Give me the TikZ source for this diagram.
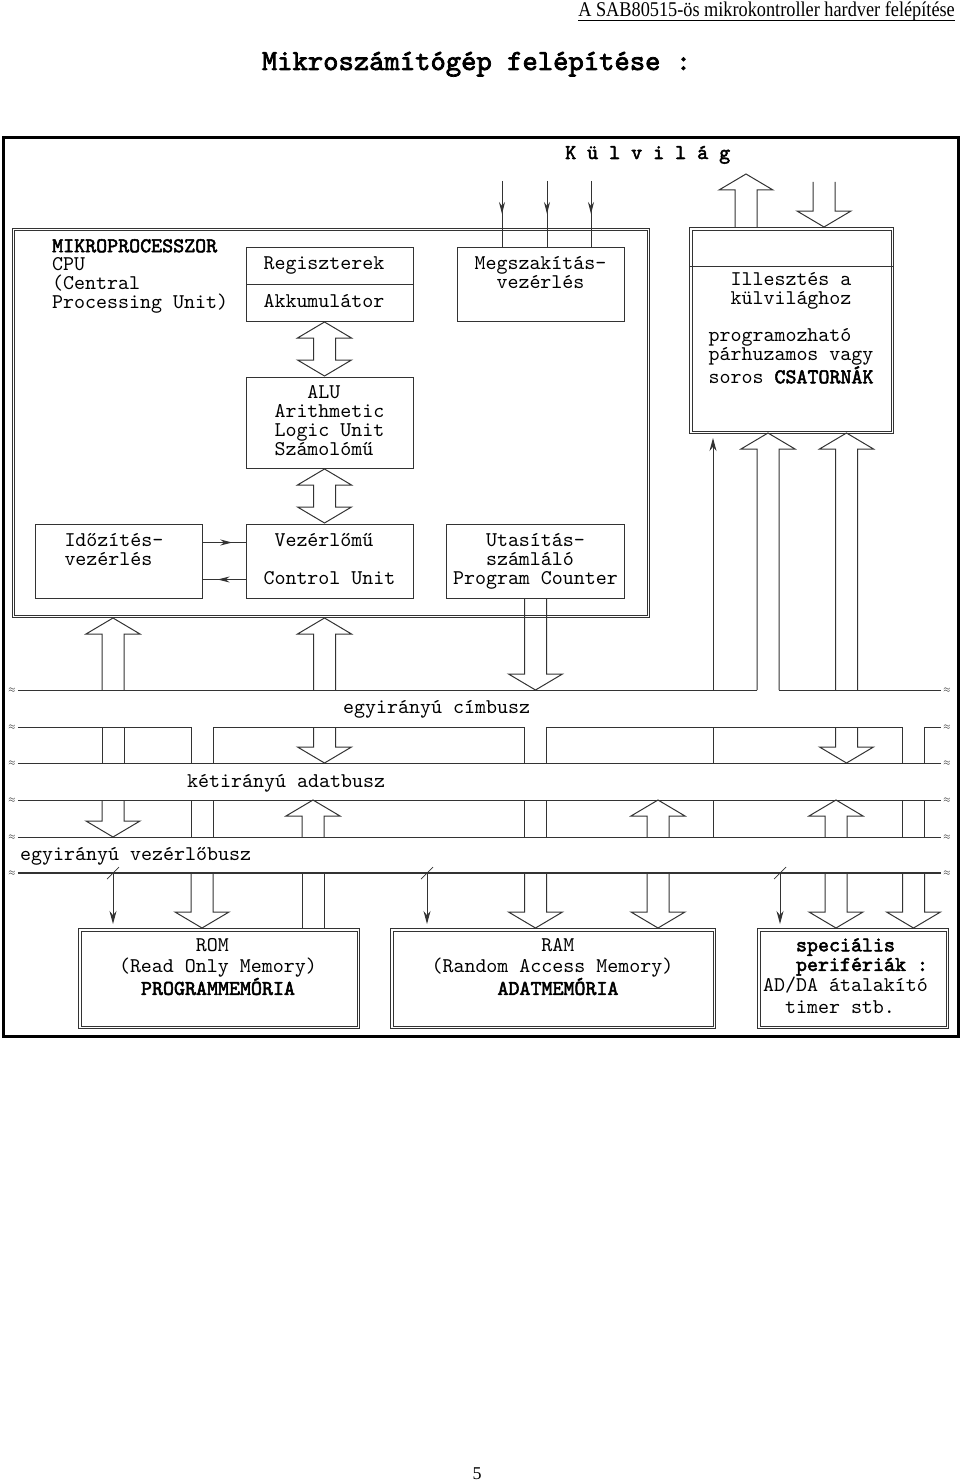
\documentclass[tikz,border=0pt]{standalone}
\usepackage{graphicx}
\usepackage{fontspec}
\setmainfont{Liberation Serif}
\setmonofont{lmmono10-regular}[Extension=.otf, BoldFont=lmmono10-regular, BoldFeatures={FakeBold=2.5}]
\usetikzlibrary{arrows.meta, decorations.markings}
\definecolor{linec}{gray}{0.2}

% hollow bus arrows: x, tip, foot  /  x, foot, tip  /  x, top tip, bottom tip
\newcommand{\fatup}[3]{\draw[bus] ({#1-11},#3) -- ({#1-11},{#2+16}) -- ({#1-27},{#2+16}) -- (#1,#2) -- ({#1+27},{#2+16}) -- ({#1+11},{#2+16}) -- ({#1+11},#3);}
\newcommand{\fatdown}[3]{\draw[bus] ({#1-11},#2) -- ({#1-11},{#3-16}) -- ({#1-27},{#3-16}) -- (#1,#3) -- ({#1+27},{#3-16}) -- ({#1+11},{#3-16}) -- ({#1+11},#2);}
\newcommand{\fatboth}[3]{\draw[bus] (#1,#2) -- ({#1+27},{#2+16}) -- ({#1+11},{#2+16}) -- ({#1+11},{#3-16}) -- ({#1+27},{#3-16}) -- (#1,#3) -- ({#1-27},{#3-16}) -- ({#1-11},{#3-16}) -- ({#1-11},{#2+16}) -- ({#1-27},{#2+16}) -- cycle;}

\begin{document}
\begin{tikzpicture}[x=1pt, y=-1pt,
      txt/.style = {font=\ttfamily\fontsize{20.95}{18.6}\selectfont, inner sep=0pt, align=left,
                    execute at begin node={\spaceskip=0pt\xspaceskip=0pt\strut}, execute at end node=\strut},
     unit/.style = {txt, draw=linec, line width=1pt, anchor=north west},
      bus/.style = {draw=linec, line width=1pt},
     ctrl/.style = {bus, -{Stealth[length=13pt,width=7pt]}, shorten >=4pt},
     wave/.style = {font=\fontsize{9}{9}\selectfont, inner sep=2pt},
 midarrow/.style = {postaction={decorate}, decoration={markings,
                    mark=at position #1 with {\arrow{Stealth[length=12pt,width=6pt]}}}}
                   ]
\useasboundingbox (0,0) rectangle (960,1482);
% page head
\node[font=\fontsize{21}{21}\selectfont, inner sep=0pt, anchor=base east] (hdr) at (955,16.5)
    {\scalebox{0.87}[1]{A SAB80515-ös mikrokontroller hardver felépítése}};
\draw[line width=0.8pt] ([yshift=-3.5pt]hdr.base west) -- ([yshift=-3.5pt]hdr.base east);
\node[font=\ttfamily\bfseries\fontsize{29.2}{29.2}\selectfont, inner sep=0pt, anchor=base] (title) at (476.5,70)
    {Mikroszámítógép felépítése :};
\node[font=\fontsize{18}{18}\selectfont, inner sep=0pt, anchor=base] (pageno) at (477,1479) {5};
% frame
\node[draw=black, line width=3pt, minimum width=955.5pt, minimum height=899pt, anchor=north west, inner sep=0pt]
    (frame) at (1.5,136) {};
\node[txt, anchor=base west] (kulvilag) at (565,159) {\textbf{K ü l v i l á g}};
% microprocessor
\node[unit, minimum width=637pt, minimum height=389pt] (cpu) at (12,228) {};
\node[txt, anchor=north west] (cputxt) at (52,239)
    {\textbf{MIKROPROCESSZOR}\\CPU\\(Central\\Processing Unit)};
\node[unit, minimum height=74pt, text width=133pt, inner xsep=17pt] (reg) at (246,247)
    {Regiszterek\\[18.6pt]Akkumulátor};
\draw[bus] (reg.west) -- (reg.east);
\node[unit, minimum height=91pt, text width=133pt, inner xsep=17pt] (alu) at (246,377)
    {\hphantom{MMMM}ALU\\\hphantom{M}Arithmetic\\\hphantom{M}Logic Unit\\\hphantom{M}Számolómű};
\node[unit, minimum height=74pt, text width=133pt, inner xsep=17pt] (vez) at (246,524)
    {\hphantom{M}Vezérlőmű\\[18.6pt]Control Unit};
\node[unit, minimum height=74pt, text width=109pt, inner xsep=29pt] (idz) at (35,524)
    {Időzítés-\\vezérlés\\};
\node[unit, minimum height=74pt, text width=165pt, inner xsep=6.5pt] (utas) at (446,524)
    {\hphantom{MMM}Utasítás-\\\hphantom{MMM}számláló\\Program Counter};
\node[unit, minimum height=74pt, text width=133pt, inner xsep=17pt] (megsz) at (457,247)
    {Megszakítás-\\\hphantom{MM}vezérlés\\};
\fatboth{324.5}{322}{376}
\fatboth{324.5}{469}{523}
\draw[bus, midarrow=0.68] ([yshift=19pt]idz.east) -- ([yshift=19pt]vez.west);
\draw[bus, midarrow=0.66] ([yshift=-18pt]vez.west) -- ([yshift=-18pt]idz.east);
% interrupt inputs
\coordinate (i1) at (502,181);
\coordinate (i2) at (547,181);
\coordinate (i3) at (591,181);
\foreach \c in {i1,i2,i3}
    \draw[bus, midarrow=0.5] (\c) -- (\c |- megsz.north);
% ports
\node[unit, minimum height=206pt, text width=166pt, inner xsep=19pt] (illeszt) at (689,227)
    {\hphantom{MM}Illesztés a\\\hphantom{MM}külvilághoz\\[18.6pt]programozható\\párhuzamos vagy\\soros \textbf{CSATORNÁK}};
\draw[bus] ([yshift=-39pt]illeszt.north west) -- ([yshift=-39pt]illeszt.north east);
\fatup{746}{174}{227}
\fatdown{824}{182}{227}
% memories and peripherals
\node[unit, minimum height=100pt, text width=200pt, inner xsep=40.5pt] (rom) at (78,928)
    {\hphantom{MMMMMMM}ROM\\(Read Only Memory)\\\hphantom{MM}\textbf{PROGRAMMEMÓRIA}\\};
\node[unit, minimum height=100pt, text width=243pt, inner xsep=41pt] (ram) at (390,928)
    {\hphantom{MMMMMMMMMM}RAM\\(Random Access Memory)\\\hphantom{MMMMMM}\textbf{ADATMEMÓRIA}\\};
\node[unit, minimum height=100pt, text width=180pt, inner xsep=5.5pt] (spec) at (757,928)
    {\hphantom{MMM}\textbf{speciális}\\\hphantom{MMM}\textbf{perifériák :}\\AD/DA átalakító\\[3.4pt]\hphantom{MM}timer stb.};
% inner lines of the double frames
\foreach \n/\d in {cpu/2.5, illeszt/3, rom/3, ram/3, spec/3}
    \draw[bus] ([shift={(\d pt,-\d pt)}]\n.north west) rectangle ([shift={(-\d pt,\d pt)}]\n.south east);
% buses
\foreach \y [count=\i] in {690,727,763,800,837,873} {
    \node[wave] (wl\i) at (12,\y) {$\approx$};
    \node[wave] (wr\i) at (947,\y) {$\approx$};
}
\draw[bus] (wl1.east) -- (757,690);
\draw[bus] (779,690) -- (wr1.west);
\draw[bus] (wl2.east) -- (191,727) -- (191,763);
\draw[bus] (213,763) -- (213,727) -- (524.5,727) -- (524.5,763);
\draw[bus] (546.5,763) -- (546.5,727) -- (902.5,727) -- (902.5,763);
\draw[bus] (924.5,763) -- (924.5,727) -- (wr2.west);
\foreach \i in {3,4,5}
    \draw[bus] (wl\i.east) -- (wr\i.west);
\draw[bus, line width=1.5pt] (wl6.east) -- (wr6.west);
\node[txt, anchor=base west] (cim) at (343,713) {egyirányú címbusz};
\node[txt, anchor=base west] (adat) at (187,787) {kétirányú adatbusz};
\node[txt, anchor=base west] (vezbus) at (20,860) {egyirányú vezérlőbusz};
% links between units and buses
\fatup{113}{618}{690}
\fatup{324.5}{618}{690}
\fatdown{535.5}{598}{690}
\fatup{768}{433}{690}
\fatup{846.5}{433}{690}
\fatdown{324.5}{727}{763}
\fatdown{846.5}{727}{763}
\foreach \x in {102,124,713}
    \draw[bus] (\x,727) -- (\x,763);
\fatdown{113}{800}{837}
\fatup{313}{800}{837}
\fatup{658}{800}{837}
\fatup{836}{800}{837}
\foreach \x in {191,213,524.5,546.5,713,902.5,924.5}
    \draw[bus] (\x,800) -- (\x,837);
\fatdown{202}{873}{928}
\fatdown{535.5}{873}{928}
\fatdown{658}{873}{928}
\fatdown{836}{873}{928}
\fatdown{913.5}{873}{928}
\coordinate (d1) at (302,873);
\coordinate (d2) at (324,873);
\draw[bus] (d1) -- (d1 |- rom.north);
\draw[bus] (d2) -- (d2 |- rom.north);
% control lines
\coordinate (k0) at (713,690);
\coordinate (k1) at (113,873);
\coordinate (k2) at (427,873);
\coordinate (k3) at (780,873);
\draw[ctrl] (k0) -- (k0 |- illeszt.south);
\draw[ctrl] (k1) -- (k1 |- rom.north);
\draw[ctrl] (k2) -- (k2 |- ram.north);
\draw[ctrl] (k3) -- (k3 |- spec.north);
\foreach \k in {k1,k2,k3}
    \draw[bus, line width=0.7pt] ([shift={(-6pt,-6pt)}]\k) -- ([shift={(6pt,6pt)}]\k);
\end{tikzpicture}
\end{document}
